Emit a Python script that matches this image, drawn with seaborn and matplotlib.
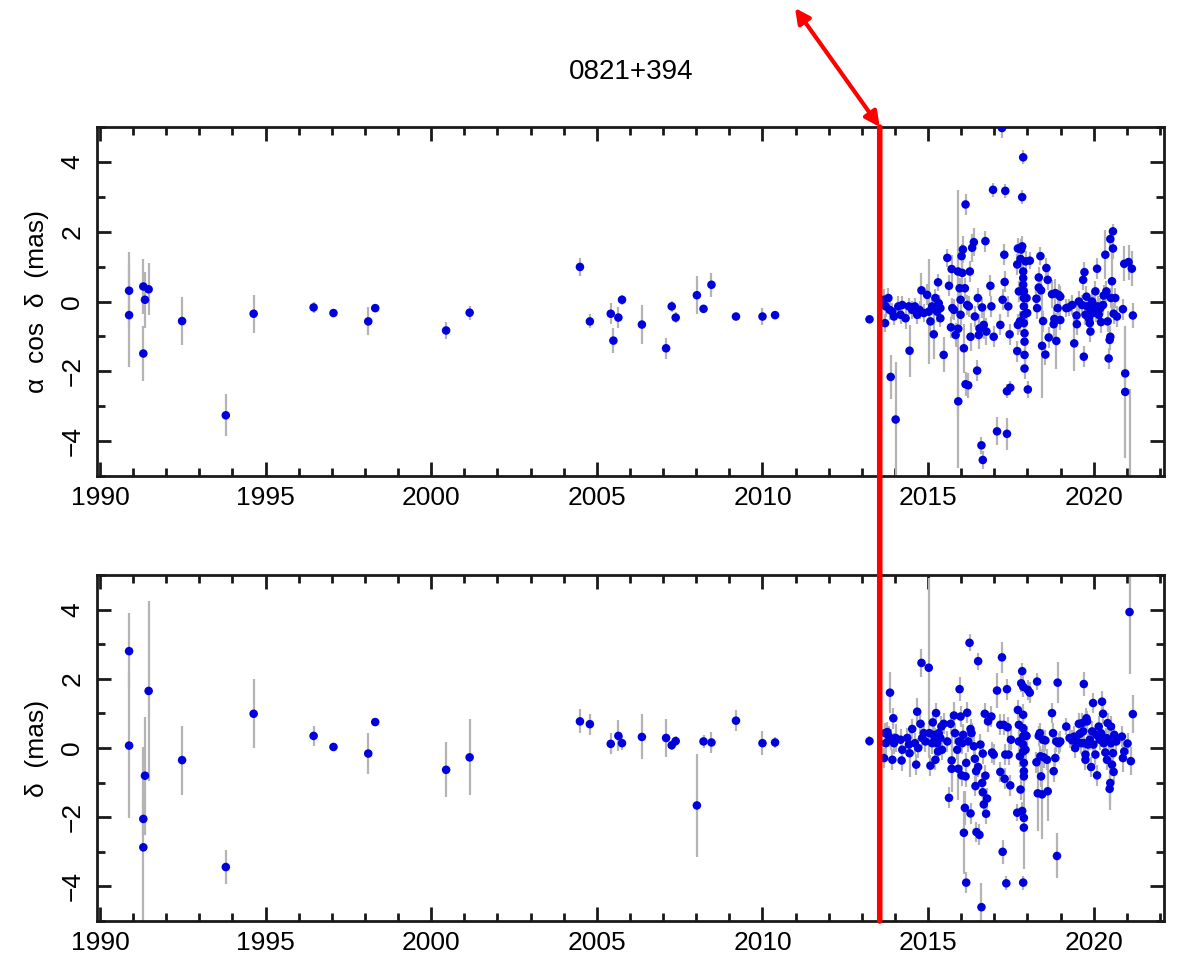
import numpy as np
import matplotlib
matplotlib.use("Agg")
import matplotlib.pyplot as plt
from matplotlib.patches import ConnectionPatch
from matplotlib.ticker import MultipleLocator
import pandas as pd
import seaborn as sns

# --- data: epoch (yr), offset (mas), error (mas) ---
# alpha cos delta
ra_t = [1990.88, 1990.88, 1991.31, 1991.36, 1991.47, 1991.31, 1992.48, 1993.80, 1994.64,
        1996.45, 1997.05, 1998.10, 1998.31, 2000.45, 2001.16,
        2004.49, 2004.79, 2005.42, 2005.50, 2005.65, 2005.76, 2006.36, 2007.09, 2007.26,
        2007.38, 2008.02, 2008.22, 2008.46, 2009.20, 2010.00, 2010.38, 2013.23,
        2013.67, 2013.72, 2013.70, 2013.80, 2013.84, 2013.87, 2013.92, 2013.97, 2014.02,
        2014.10, 2014.17, 2014.22, 2014.32, 2014.42, 2014.44, 2014.52, 2014.60, 2014.67,
        2014.74, 2014.80, 2014.87, 2014.97, 2015.02, 2015.07, 2015.12, 2015.17, 2015.22,
        2015.27, 2015.30, 2015.32, 2015.37, 2015.37, 2015.47, 2015.58, 2015.63, 2015.71,
        2015.73, 2015.69, 2015.78, 2015.83, 2015.90, 2015.91, 2015.91, 2015.95, 2015.98,
        2015.98, 2016.01, 2016.03, 2016.05, 2016.08, 2016.11, 2016.13, 2016.13, 2016.21,
        2016.18, 2016.23, 2016.26, 2016.28, 2016.33, 2016.38, 2016.41, 2016.48, 2016.50,
        2016.53, 2016.55, 2016.61, 2016.65, 2016.63, 2016.68, 2016.73, 2016.76, 2016.88,
        2016.91, 2016.96, 2016.98, 2017.08, 2017.18, 2017.25, 2017.23, 2017.30, 2017.31,
        2017.33, 2017.38, 2017.38, 2017.42, 2017.46, 2017.48, 2017.69, 2017.69, 2017.71,
        2017.71, 2017.74, 2017.77, 2017.79, 2017.81, 2017.84, 2017.87, 2017.84, 2017.87,
        2017.87, 2017.87, 2017.89, 2017.89, 2017.89, 2017.89, 2017.89, 2017.91, 2017.91,
        2017.91, 2017.91, 2017.94, 2017.97, 2017.99, 2018.01, 2018.07, 2018.27, 2018.29,
        2018.34, 2018.34, 2018.39, 2018.41, 2018.44, 2018.47, 2018.54, 2018.57, 2018.61,
        2018.64, 2018.74, 2018.79, 2018.81, 2018.84, 2018.87, 2018.91, 2018.94, 2018.99,
        2018.99, 2019.17, 2019.24, 2019.35, 2019.41, 2019.48, 2019.49, 2019.55, 2019.65,
        2019.68, 2019.70, 2019.72, 2019.75, 2019.78, 2019.80, 2019.85, 2019.88, 2019.90,
        2019.92, 2019.95, 2019.98, 2020.00, 2020.05, 2020.08, 2020.10, 2020.12, 2020.15,
        2020.20, 2020.22, 2020.28, 2020.30, 2020.35, 2020.38, 2020.42, 2020.45, 2020.48,
        2020.50, 2020.50, 2020.52, 2020.55, 2020.58, 2020.58, 2020.60, 2020.65, 2020.70,
        2020.88, 2020.92, 2020.95, 2020.95, 2021.05, 2021.10, 2021.15, 2021.18]
ra_v = [0.31, -0.39, 0.43, 0.05, 0.35, -1.49, -0.56, -3.26, -0.35,
        -0.17, -0.33, -0.57, -0.19, -0.83, -0.32,
        0.99, -0.57, -0.35, -1.12, -0.46, 0.05, -0.66, -1.34, -0.14,
        -0.46, 0.18, -0.21, 0.48, -0.43, -0.43, -0.39, -0.51,
        0.05, -0.14, -0.62, 0.10, -0.24, -2.16, -0.29, -0.43, -3.38,
        -0.14, -0.38, -0.10, -0.48, -0.14, -1.41, -0.24, -0.14, -0.38,
        -0.24, 0.32, -0.33, 0.19, -0.29, -0.57, -0.14, -0.94, 0.10,
        -0.29, 0.55, -0.05, -0.48, -0.19, -1.53, 1.25, 0.45, 0.93,
        -0.19, -0.74, -0.24, -0.96, 0.86, -2.86, -0.78, 0.38, 0.05,
        -0.38, 1.30, 0.82, 1.49, -1.34, 0.38, 2.78, -2.37, -2.40,
        -0.10, -0.14, 0.86, -1.01, 1.54, 1.70, -0.43, -1.98, 0.10,
        -0.96, -0.77, -4.12, -4.54, -0.17, -0.67, 1.73, -0.86, 0.45,
        -0.14, 3.20, -1.01, -3.72, -0.67, 0.05, 4.97, 1.34, 0.56,
        3.17, -2.57, -3.79, -0.14, -0.94, -2.47, -1.42, 1.06, 1.52,
        -0.67, 0.29, -0.57, 1.22, 1.49, 2.99, 4.13, 1.58, 0.86,
        0.67, 0.48, 0.29, 0.10, -0.14, -0.38, -0.62, -0.91, -1.15,
        -1.53, -1.92, 1.15, 0.10, -0.33, -2.52, 1.17, 0.08, -0.19,
        0.69, 0.40, 1.30, 0.32, -1.27, -0.56, -1.52, 0.96, 0.62,
        -1.03, 0.21, -0.65, -0.50, 0.24, -1.13, -0.19, 0.19, 0.14,
        -0.53, -0.19, -0.17, -0.10, -1.20, -0.40, -0.65, 0.00, -0.10,
        0.62, -1.58, 0.84, -0.38, 0.14, -0.14, -0.48, -0.62, -0.86,
        -0.24, 0.00, -0.33, -0.14, 0.29, -0.29, 0.94, -0.14, -0.38,
        -0.19, -0.59, -0.10, 0.17, 1.34, 0.29, -0.57, -1.63, -1.10,
        -1.01, 1.79, 0.10, 0.58, 2.01, 1.52, -0.35, 0.10, -0.43,
        -0.22, 1.08, -2.06, -2.59, 1.13, -5.40, 0.94, -0.40]
ra_e = [1.1, 1.5, 0.8, 0.8, 0.75, 0.8, 0.7, 0.6, 0.55,
        0.15, 0.1, 0.4, 0.1, 0.25, 0.2,
        0.25, 0.2, 0.3, 0.35, 0.3, 0.15, 0.55, 0.3, 0.15,
        0.15, 0.55, 0.1, 0.35, 0.1, 0.25, 0.1, 0.1,
        0.3, 0.3, 0.25, 0.3, 0.3, 0.62, 0.25, 0.25, 1.65,
        0.3, 0.25, 0.25, 0.3, 0.25, 0.75, 0.25, 0.25, 0.25,
        0.25, 0.5, 0.25, 0.3, 1.5, 0.3, 0.25, 0.7, 0.25,
        0.3, 0.25, 0.25, 0.25, 0.3, 0.5, 0.25, 0.3, 0.4,
        0.3, 0.3, 0.3, 0.35, 0.4, 0.4, 3.98, 0.3, 0.3,
        0.3, 0.35, 0.35, 0.4, 0.7, 0.3, 0.3, 0.35, 0.35,
        0.3, 0.3, 0.3, 0.4, 0.4, 0.4, 0.3, 0.3, 0.3,
        0.4, 0.4, 0.25, 0.25, 0.3, 0.4, 0.3, 0.4, 0.3,
        0.3, 0.2, 0.3, 0.4, 0.3, 0.3, 0.3, 0.3, 0.3,
        0.2, 0.2, 0.45, 0.3, 0.3, 0.2, 0.3, 0.3, 0.3,
        0.3, 0.3, 0.3, 0.3, 0.3, 0.2, 0.2, 0.3, 0.3,
        0.3, 0.3, 0.3, 0.3, 0.3, 0.3, 0.3, 0.3, 0.3,
        0.3, 0.3, 0.3, 0.3, 0.3, 0.25, 0.25, 0.3, 0.3,
        0.3, 0.3, 0.25, 0.3, 1.5, 0.3, 0.3, 0.3, 0.3,
        0.3, 0.4, 0.4, 0.3, 0.4, 0.8, 0.3, 0.3, 0.3,
        0.3, 0.25, 0.25, 0.3, 0.8, 0.3, 0.3, 0.3, 0.3,
        0.3, 0.3, 0.3, 0.3, 0.3, 0.3, 0.3, 0.3, 0.3,
        0.3, 0.3, 0.3, 0.3, 0.3, 0.3, 0.3, 0.3, 0.3,
        0.3, 0.3, 0.3, 0.3, 0.7, 0.3, 0.3, 0.3, 0.3,
        0.3, 0.2, 0.3, 1.0, 0.2, 0.3, 0.3, 0.3, 0.3,
        0.3, 0.5, 0.3, 1.9, 0.5, 2.9, 0.5, 0.35]

# delta
de_t = [1990.88, 1990.88, 1991.31, 1991.31, 1991.36, 1991.47, 1992.48, 1993.80, 1994.64,
        1996.45, 1997.05, 1998.10, 1998.31, 2000.45, 2001.16,
        2004.49, 2004.79, 2005.42, 2005.65, 2005.76, 2006.36, 2007.09, 2007.26, 2007.38,
        2008.02, 2008.22, 2008.46, 2009.20, 2010.00, 2010.38, 2013.23,
        2013.67, 2013.70, 2013.72, 2013.77, 2013.82, 2013.85, 2013.87, 2013.92, 2013.95,
        2013.97, 2014.02, 2014.17, 2014.20, 2014.22, 2014.37, 2014.42, 2014.44, 2014.52,
        2014.60, 2014.64, 2014.67, 2014.70, 2014.77, 2014.80, 2014.82, 2014.87, 2014.92,
        2015.02, 2015.04, 2015.07, 2015.12, 2015.14, 2015.17, 2015.20, 2015.22, 2015.24,
        2015.27, 2015.30, 2015.32, 2015.37, 2015.40, 2015.42, 2015.47, 2015.58, 2015.63,
        2015.68, 2015.71, 2015.71, 2015.78, 2015.81, 2015.88, 2015.91, 2015.93, 2015.95,
        2015.98, 2016.01, 2016.03, 2016.06, 2016.08, 2016.11, 2016.13, 2016.15, 2016.15,
        2016.18, 2016.21, 2016.25, 2016.28, 2016.28, 2016.31, 2016.38, 2016.41, 2016.43,
        2016.45, 2016.46, 2016.51, 2016.51, 2016.55, 2016.58, 2016.61, 2016.63, 2016.65,
        2016.65, 2016.68, 2016.71, 2016.73, 2016.75, 2016.78, 2016.81, 2016.91, 2016.93,
        2016.98, 2017.08, 2017.18, 2017.18, 2017.23, 2017.25, 2017.28, 2017.31, 2017.33,
        2017.36, 2017.38, 2017.40, 2017.43, 2017.48, 2017.50, 2017.69, 2017.71, 2017.74,
        2017.74, 2017.77, 2017.79, 2017.81, 2017.84, 2017.84, 2017.87, 2017.87, 2017.87,
        2017.87, 2017.87, 2017.87, 2017.89, 2017.89, 2017.89, 2017.89, 2017.89, 2017.87,
        2017.91, 2017.94, 2017.97, 2018.01, 2018.07, 2018.27, 2018.29, 2018.31, 2018.34,
        2018.37, 2018.39, 2018.41, 2018.44, 2018.47, 2018.49, 2018.54, 2018.59, 2018.61,
        2018.74, 2018.77, 2018.79, 2018.84, 2018.87, 2018.89, 2018.91, 2018.94, 2018.99,
        2019.17, 2019.27, 2019.35, 2019.41, 2019.44, 2019.49, 2019.55, 2019.58, 2019.62,
        2019.65, 2019.68, 2019.70, 2019.70, 2019.75, 2019.75, 2019.78, 2019.80, 2019.82,
        2019.88, 2019.92, 2019.95, 2019.98, 2019.99, 2020.05, 2020.08, 2020.10, 2020.15,
        2020.18, 2020.22, 2020.25, 2020.28, 2020.30, 2020.35, 2020.38, 2020.40, 2020.42,
        2020.45, 2020.48, 2020.50, 2020.52, 2020.52, 2020.55, 2020.58, 2020.60, 2020.62,
        2020.68, 2020.85, 2020.88, 2020.92, 2021.02, 2021.08, 2021.12, 2021.18]
de_v = [2.80, 0.07, -2.05, -2.87, -0.80, 1.65, -0.35, -3.44, 0.99,
        0.35, 0.03, -0.16, 0.75, -0.63, -0.27,
        0.77, 0.69, 0.12, 0.35, 0.14, 0.32, 0.29, 0.08, 0.20,
        -1.66, 0.19, 0.16, 0.79, 0.14, 0.16, 0.20,
        -0.29, 0.43, 0.14, 0.46, 0.33, 1.60, 0.24, -0.34, 0.86,
        0.14, 0.29, 0.24, -0.36, -0.05, 0.29, 0.10, -0.15, 0.55,
        0.14, -0.48, 1.05, 0.00, 0.70, 2.46, 0.29, 0.43, 0.19,
        2.32, 0.43, -0.51, 0.14, 0.74, 0.38, 0.29, -0.34, 1.01,
        0.14, -0.10, 0.43, 0.29, 0.62, -0.05, 0.70, 0.19, -1.44,
        0.70, -0.36, -0.60, 0.94, 0.43, -0.05, -0.60, 0.19, 1.70,
        0.91, -0.79, 0.14, 0.38, -2.45, -1.73, -0.82, -3.89, -0.43,
        1.02, 0.19, 3.04, -1.89, 0.55, 0.43, 0.05, -0.31, -1.10,
        -0.67, -2.43, -0.55, 2.51, -2.51, 0.10, -4.60, -1.01, -1.28,
        -0.16, -1.63, 0.99, -0.80, -1.90, -1.46, 0.77, 0.91, -0.13,
        -0.19, 1.66, -0.69, 0.67, 2.62, -3.00, 0.67, -0.89, -0.19,
        -3.91, 1.70, 0.60, -0.19, -1.08, 0.24, -1.87, 1.10, 0.67,
        0.19, -0.24, -1.20, 1.87, 2.22, -1.82, 1.77, 0.96, 0.57,
        0.33, 0.10, -0.10, -0.43, -0.67, -0.82, -2.02, -2.30, -3.89,
        0.38, -0.05, 0.35, 1.68, 1.60, -0.41, 1.92, -1.31, 0.35,
        0.43, -0.24, -0.82, -1.34, 0.24, -0.27, 0.22, -0.34, -1.25,
        1.01, 0.43, -0.67, -0.29, 0.19, -3.12, 1.89, 0.14, 0.19,
        0.62, 0.29, 0.22, 0.33, 0.00, 0.19, 0.70, 0.41, 0.14,
        0.72, 0.48, 1.85, 0.14, -0.19, -0.34, 0.86, 0.77, 0.10,
        0.24, -0.55, 0.48, 1.30, 0.10, -0.19, 0.38, -0.79, 0.62,
        0.24, 0.43, 1.34, 0.99, 0.14, -0.13, 0.29, -0.34, 0.72,
        0.24, -1.18, -1.01, 0.62, 0.14, -0.48, -0.15, -0.69, 0.38,
        0.19, 0.33, -0.29, -0.10, 0.13, 3.93, -0.38, 0.98]
de_e = [1.1, 2.1, 0.5, 2.9, 1.7, 2.6, 1.0, 0.5, 1.0,
        0.3, 0.1, 0.6, 0.1, 0.8, 1.1,
        0.35, 0.3, 0.3, 0.45, 0.2, 0.65, 0.55, 0.15, 0.15,
        1.5, 0.2, 0.3, 0.3, 0.35, 0.15, 0.15,
        0.3, 0.3, 0.3, 0.3, 0.3, 0.6, 0.3, 0.3, 0.3,
        0.3, 0.4, 0.3, 0.3, 0.3, 0.3, 0.3, 0.7, 0.3,
        0.3, 0.3, 0.4, 0.3, 0.3, 0.4, 0.3, 0.3, 0.3,
        2.6, 0.3, 0.3, 0.3, 0.3, 0.3, 0.3, 0.3, 0.3,
        0.3, 0.3, 0.3, 0.3, 0.3, 0.3, 0.3, 0.3, 0.3,
        0.3, 0.9, 0.3, 0.4, 0.3, 0.3, 0.9, 0.3, 0.35,
        0.3, 0.3, 0.3, 0.3, 1.2, 0.5, 0.3, 0.3, 0.3,
        0.3, 0.3, 0.25, 0.3, 0.3, 0.3, 0.3, 0.3, 0.3,
        0.3, 0.3, 0.3, 0.25, 0.3, 0.3, 0.7, 0.3, 0.3,
        0.3, 0.3, 0.3, 0.3, 0.3, 0.3, 0.3, 0.3, 0.3,
        0.3, 0.5, 0.3, 0.3, 0.45, 0.35, 0.3, 0.3, 0.3,
        0.2, 0.3, 0.3, 0.3, 0.3, 0.3, 0.25, 0.3, 0.3,
        0.3, 0.3, 0.3, 0.25, 0.25, 0.25, 0.3, 0.3, 0.3,
        0.3, 0.3, 0.3, 0.3, 0.3, 0.3, 0.3, 1.2, 0.2,
        0.3, 0.3, 0.3, 0.3, 0.3, 0.3, 0.25, 1.1, 0.3,
        0.3, 0.3, 0.3, 1.3, 0.3, 0.3, 0.3, 0.3, 0.85,
        0.3, 0.3, 0.3, 0.3, 0.3, 0.65, 0.6, 0.3, 0.3,
        0.25, 0.3, 0.3, 0.3, 0.3, 0.3, 0.3, 0.3, 0.3,
        0.3, 0.3, 0.35, 0.3, 0.3, 0.3, 0.3, 0.3, 0.3,
        0.3, 0.3, 0.3, 0.3, 0.3, 0.3, 0.3, 0.3, 0.3,
        0.3, 0.3, 0.3, 0.3, 0.3, 0.3, 0.3, 0.3, 0.3,
        0.3, 0.6, 0.6, 0.3, 0.3, 0.3, 0.3, 0.3, 0.3,
        0.3, 0.3, 0.4, 0.3, 0.3, 1.8, 0.4, 0.55]

source = "0821+394"
epoch_mark = 2013.54

sns.set_style("ticks")
plt.rcParams["font.family"] = ["Liberation Sans", "DejaVu Sans"]
plt.rcParams["text.color"] = "black"
plt.rcParams["xtick.color"] = "black"
plt.rcParams["ytick.color"] = "black"
plt.rcParams["axes.labelcolor"] = "black"

fig = plt.figure(figsize=(11.78, 9.59), dpi=100)
ax1 = fig.add_axes([0.0823, 0.5036, 0.9058, 0.3640])
ax2 = fig.add_axes([0.0823, 0.0396, 0.9058, 0.3608])

panels = [
    (ax1, ra_t, ra_v, ra_e, "α  cos  δ  (mas)"),
    (ax2, de_t, de_v, de_e, "δ  (mas)"),
]

for ax, t, v, e, lab in panels:
    df = pd.DataFrame({"t": t, "v": v, "e": e})
    ax.errorbar(df["t"], df["v"], yerr=df["e"], fmt="none",
                ecolor="#b4b4b4", elinewidth=1.6, capsize=0, zorder=1)
    sns.scatterplot(data=df, x="t", y="v", color="#0000dc", s=38,
                    edgecolor="none", linewidth=0, ax=ax, zorder=3, legend=False)
    ax.set_xlim(1989.91, 2022.12)
    ax.set_ylim(-5, 5)
    ax.xaxis.set_major_locator(MultipleLocator(5))
    ax.xaxis.set_minor_locator(MultipleLocator(1))
    ax.yaxis.set_major_locator(MultipleLocator(2))
    ax.yaxis.set_minor_locator(MultipleLocator(1))
    ax.tick_params(which="both", direction="in", top=True, right=True,
                   width=2, color="#1a1a1a", labelsize=19)
    ax.tick_params(which="major", length=10)
    ax.tick_params(which="minor", length=6)
    ax.tick_params(axis="x", pad=7)
    ax.tick_params(axis="y", pad=9)
    for lbl in ax.get_yticklabels():
        lbl.set_rotation(90)
        lbl.set_va("center")
    for sp in ax.spines.values():
        sp.set_linewidth(2)
        sp.set_color("#1a1a1a")
    ax.set_xlabel("")
    ax.set_ylabel(lab, fontsize=19)
    ax.yaxis.set_label_coords(-0.045, 0.5)

fig.text(631 / 1178, 1 - 72 / 959, source, ha="center", va="center", fontsize=20)

# red marker line through both panels
con = ConnectionPatch(xyA=(epoch_mark, 5), coordsA=ax1.transData,
                      xyB=(epoch_mark, -5), coordsB=ax2.transData,
                      color="red", linewidth=4, zorder=10)
fig.add_artist(con)
ax1.annotate("", xy=(795 / 1178, 1 - 8 / 959), xycoords="figure fraction",
             xytext=(epoch_mark, 5), textcoords="data",
             arrowprops=dict(arrowstyle="<|-|>", color="red", lw=3,
                             mutation_scale=22, shrinkA=0, shrinkB=0),
             annotation_clip=False)

fig.savefig("out.png", dpi=100)
